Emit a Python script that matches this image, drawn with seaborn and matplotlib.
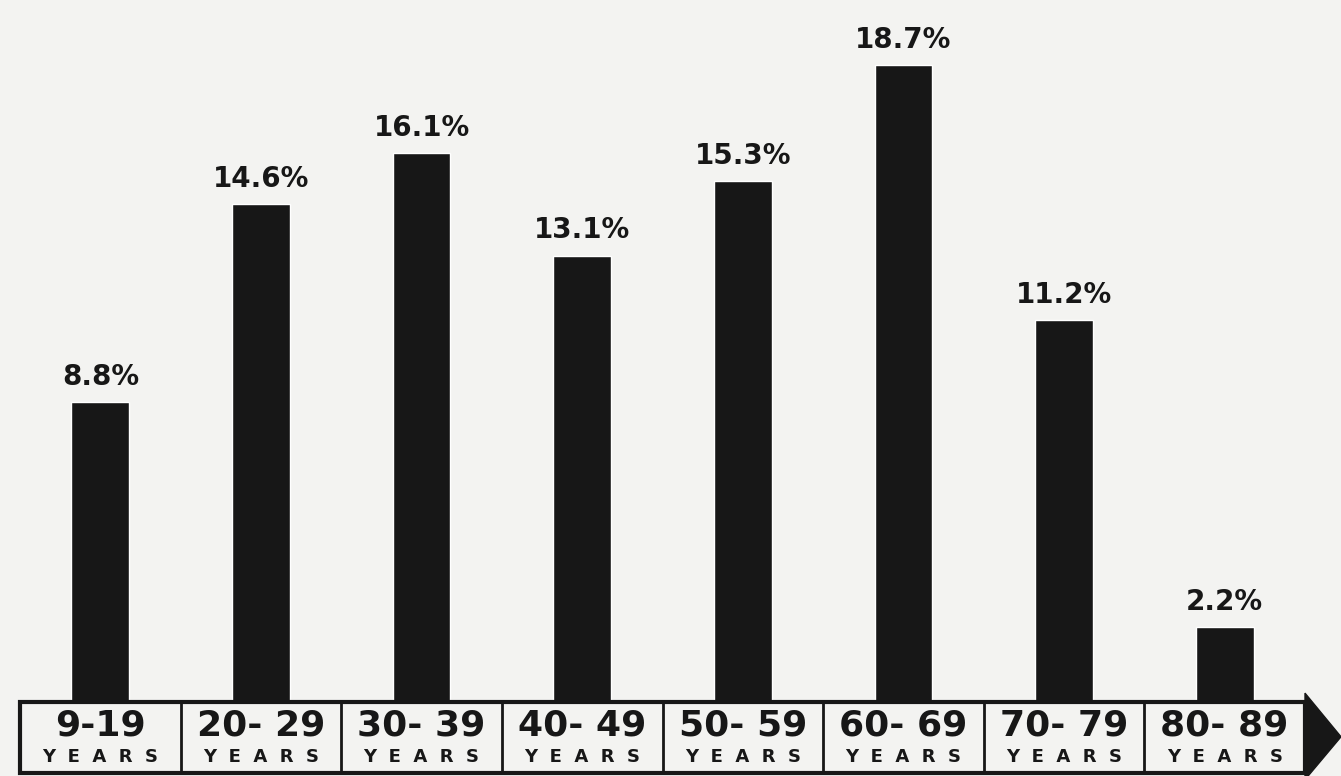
import pandas as pd
import matplotlib.pyplot as plt
import seaborn as sns
from matplotlib.patches import Rectangle, Polygon

# Age groups and share of each group (%)
age_groups = ["9-19", "20-29", "30-39", "40-49", "50-59", "60-69", "70-79", "80-89"]
shares = [8.8, 14.6, 16.1, 13.1, 15.3, 18.7, 11.2, 2.2]

df = pd.DataFrame({"age": age_groups, "share": shares})

sns.set_theme(style="white")
plt.rcParams["font.family"] = ["DejaVu Sans"]

bg = "#f3f3f1"
ink = "#171717"

fig = plt.figure(figsize=(13.41, 7.76), dpi=100, facecolor=bg)

# main bar area: baseline sits on top of the label strip
ax = fig.add_axes([20 / 1341, 74 / 776, 1285 / 1341, 702 / 776])
ax.set_facecolor(bg)
sns.barplot(data=df, x="age", y="share", color=ink, width=0.36,
            saturation=1, ax=ax)
ax.set_xlim(-0.5, len(age_groups) - 0.5)
ax.set_ylim(0, 20.6)
ax.bar_label(ax.containers[0], fmt="%.1f%%", padding=8, fontsize=20,
             fontweight="bold", color=ink)
ax.set_xlabel("")
ax.set_ylabel("")
ax.set_xticks([])
ax.set_yticks([])
sns.despine(ax=ax, left=True, bottom=True)

# label strip with boxed age ranges
ax2 = fig.add_axes([20 / 1341, 0, 1285 / 1341, 74 / 776], sharex=ax)
ax2.set_facecolor(bg)
ax2.set_ylim(0, 1)
ax2.axis("off")
ax2.add_patch(Rectangle((-0.5, 0.04), len(age_groups), 0.96, fill=False,
                        edgecolor=ink, linewidth=3, clip_on=False))
for i, lab in enumerate(age_groups):
    if i > 0:
        ax2.plot([i - 0.5, i - 0.5], [0.04, 1], color=ink, lw=2, clip_on=False)
    ax2.text(i, 0.68, lab.replace("-", "- ") if i > 0 else lab, ha="center",
             va="center", fontsize=26, fontweight="bold", color=ink)
    ax2.text(i, 0.25, "Y  E  A  R  S", ha="center", va="center", fontsize=13,
             fontweight="bold", color=ink)

# arrow head at the right end of the strip
ax2.add_patch(Polygon([(7.5, 1.12), (7.5 + 36 * 8 / 1285, 0.53), (7.5, -0.05)],
                      closed=True, facecolor=ink, edgecolor=ink, clip_on=False))

fig.savefig("out.png", dpi=100, facecolor=bg)
